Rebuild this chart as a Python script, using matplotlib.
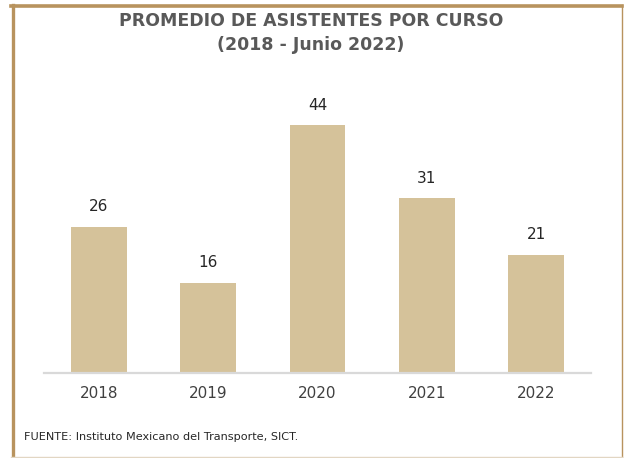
import matplotlib
matplotlib.use("Agg")
import matplotlib.pyplot as plt
from matplotlib.lines import Line2D

years = ["2018", "2019", "2020", "2021", "2022"]
values = [26, 16, 44, 31, 21]

W, H = 624, 458
fig = plt.figure(figsize=(W / 100, H / 100), dpi=100)
fig.patch.set_facecolor("white")

def fx(px):
    return px / W

def fy(py):
    return 1 - py / H

# frame
border = "#B8935E"
fig.add_artist(Line2D([fx(12.5), fx(12.5)], [fy(5), fy(457)], color=border, lw=2.4, transform=fig.transFigure))
fig.add_artist(Line2D([fx(11), fx(622)], [fy(6), fy(6)], color=border, lw=2.6, transform=fig.transFigure))
fig.add_artist(Line2D([fx(621.5), fx(621.5)], [fy(5), fy(457)], color=border, lw=1.0, transform=fig.transFigure))
fig.add_artist(Line2D([fx(11), fx(622)], [fy(456.5), fy(456.5)], color="#E2D6C3", lw=1.0, transform=fig.transFigure))

ax_left, ax_right = 44, 591
ax_top, ax_bottom = 100, 373
ax = fig.add_axes([fx(ax_left), fy(ax_bottom), fx(ax_right - ax_left), (ax_bottom - ax_top) / H])
ax.set_facecolor("none")
x = list(range(len(years)))
ax.bar(x, values, width=0.51, color="#D5C29A", zorder=2)
ymax = (ax_bottom - ax_top) / 5.63
ax.set_ylim(0, ymax)
ax.set_xlim(-0.5, len(years) - 0.5)
for xi, v in zip(x, values):
    ax.annotate(str(v), (xi, v), xytext=(0, 9), textcoords="offset points",
                ha="center", va="bottom", fontsize=11, color="#262626")
for s in ["top", "right", "left"]:
    ax.spines[s].set_visible(False)
ax.spines["bottom"].set_color("#D9D9D9")
ax.spines["bottom"].set_linewidth(1.6)
ax.set_yticks([])
ax.set_xticks(x)
ax.set_xticklabels(years, fontsize=11, color="#404040")
ax.tick_params(axis="x", length=0, pad=9)

fig.text(fx(311), fy(21), "PROMEDIO DE ASISTENTES POR CURSO", ha="center", va="center",
         fontsize=12.5, fontweight="bold", color="#595959")
fig.text(fx(311), fy(45), "(2018 - Junio 2022)", ha="center", va="center",
         fontsize=12.5, fontweight="bold", color="#595959")
fig.text(fx(24), fy(437), "FUENTE: Instituto Mexicano del Transporte, SICT.", ha="left", va="center",
         fontsize=8.1, color="#262626")

fig.savefig("out.png", dpi=100, facecolor="white")
